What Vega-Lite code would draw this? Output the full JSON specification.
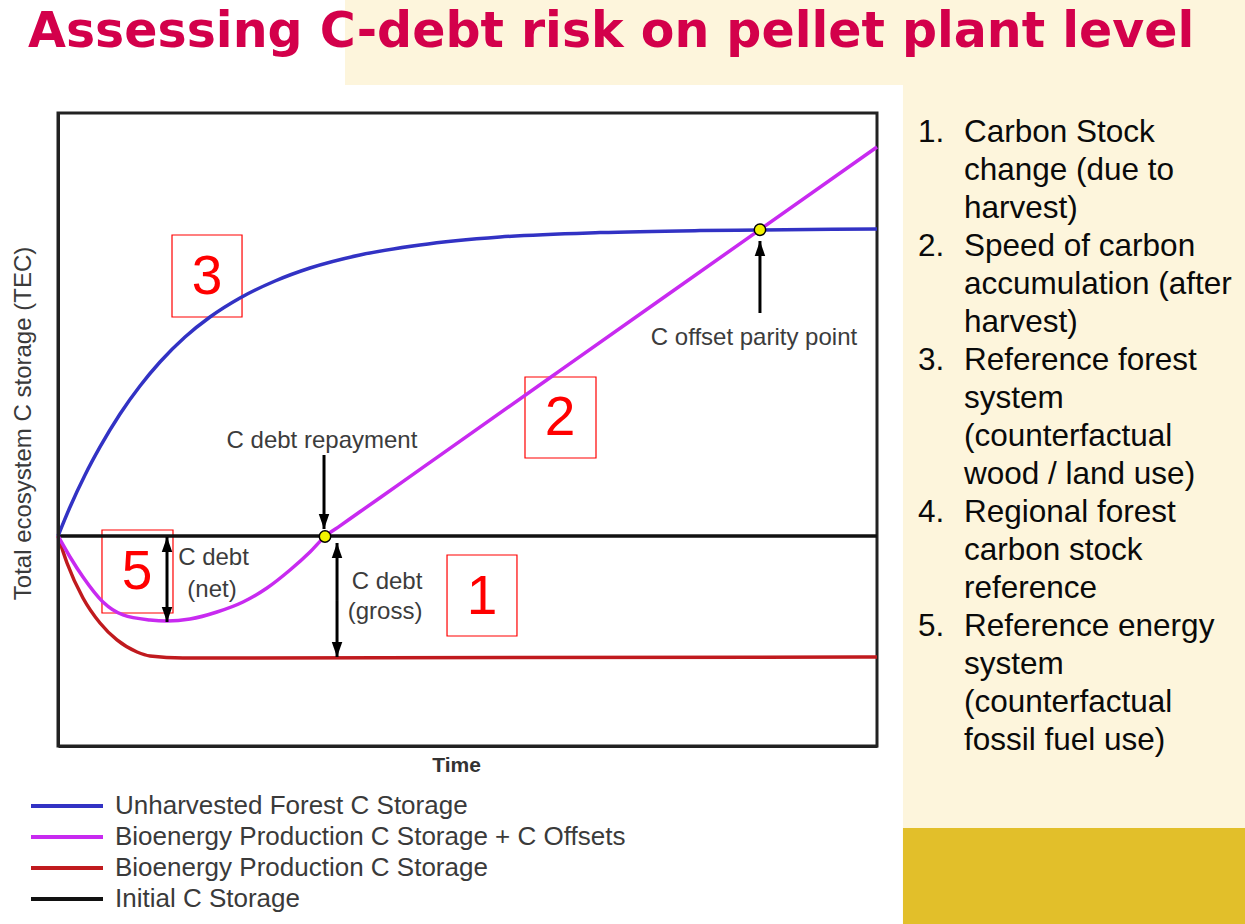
{
  "$schema": "https://vega.github.io/schema/vega-lite/v6.json",
  "width": 819,
  "height": 633,
  "autosize": {"type": "none"},
  "padding": {"left": 58, "top": 113, "right": 368, "bottom": 178},
  "background": "#ffffff",
  "datasets": {
    "cream": [
      {"t": 35.04, "t2": 150, "v": 104.42, "v2": 122},
      {"t": 103.17, "t2": 150, "v": -12.95, "v2": 104.5}
    ],
    "gold": [
      {"t": 103.17, "t2": 150, "v": -32, "v2": -12.95}
    ],
    "heading": [
      {"label": "Assessing C-debt risk on pellet plant level", "t": -3.66, "v": 110.43}
    ],
    "panel": [
      {"label": "1.", "t": 105.01, "v": 95.42},
      {"label": "Carbon Stock", "t": 110.62, "v": 95.42},
      {"label": "change (due to", "t": 110.62, "v": 89.42},
      {"label": "harvest)", "t": 110.62, "v": 83.41},
      {"label": "2.", "t": 105.01, "v": 77.41},
      {"label": "Speed of carbon", "t": 110.62, "v": 77.41},
      {"label": "accumulation (after", "t": 110.62, "v": 71.41},
      {"label": "harvest)", "t": 110.62, "v": 65.40},
      {"label": "3.", "t": 105.01, "v": 59.40},
      {"label": "Reference forest", "t": 110.62, "v": 59.40},
      {"label": "system", "t": 110.62, "v": 53.40},
      {"label": "(counterfactual", "t": 110.62, "v": 47.39},
      {"label": "wood / land use)", "t": 110.62, "v": 41.39},
      {"label": "4.", "t": 105.01, "v": 35.39},
      {"label": "Regional forest", "t": 110.62, "v": 35.39},
      {"label": "carbon stock", "t": 110.62, "v": 29.38},
      {"label": "reference", "t": 110.62, "v": 23.38},
      {"label": "5.", "t": 105.01, "v": 17.38},
      {"label": "Reference energy", "t": 110.62, "v": 17.38},
      {"label": "system", "t": 110.62, "v": 11.37},
      {"label": "(counterfactual", "t": 110.62, "v": 5.37},
      {"label": "fossil fuel use)", "t": 110.62, "v": -0.63}
    ],
    "curves": [
      {"series": "Initial C Storage", "t": 0, "v": 33.18},
      {"series": "Initial C Storage", "t": 100, "v": 33.18},
      {"series": "Bioenergy Production C Storage", "t": 0, "v": 33.18},
      {"series": "Bioenergy Production C Storage", "t": 1.10, "v": 28.91},
      {"series": "Bioenergy Production C Storage", "t": 3.05, "v": 23.38},
      {"series": "Bioenergy Production C Storage", "t": 5.13, "v": 19.43},
      {"series": "Bioenergy Production C Storage", "t": 7.20, "v": 16.75},
      {"series": "Bioenergy Production C Storage", "t": 9.65, "v": 14.85},
      {"series": "Bioenergy Production C Storage", "t": 11.23, "v": 14.22},
      {"series": "Bioenergy Production C Storage", "t": 15.26, "v": 13.90},
      {"series": "Bioenergy Production C Storage", "t": 23.44, "v": 13.90},
      {"series": "Bioenergy Production C Storage", "t": 100, "v": 14.06},
      {"series": "Unharvested Forest C Storage", "t": 0, "v": 33.18},
      {"series": "Unharvested Forest C Storage", "t": 1.47, "v": 37.76},
      {"series": "Unharvested Forest C Storage", "t": 3.30, "v": 42.81},
      {"series": "Unharvested Forest C Storage", "t": 5.13, "v": 47.24},
      {"series": "Unharvested Forest C Storage", "t": 7.57, "v": 52.45},
      {"series": "Unharvested Forest C Storage", "t": 10.01, "v": 56.87},
      {"series": "Unharvested Forest C Storage", "t": 12.45, "v": 60.66},
      {"series": "Unharvested Forest C Storage", "t": 15.51, "v": 64.61},
      {"series": "Unharvested Forest C Storage", "t": 18.56, "v": 67.77},
      {"series": "Unharvested Forest C Storage", "t": 22.22, "v": 70.77},
      {"series": "Unharvested Forest C Storage", "t": 26.50, "v": 73.46},
      {"series": "Unharvested Forest C Storage", "t": 30.77, "v": 75.51},
      {"series": "Unharvested Forest C Storage", "t": 36.87, "v": 77.57},
      {"series": "Unharvested Forest C Storage", "t": 44.20, "v": 79.15},
      {"series": "Unharvested Forest C Storage", "t": 53.97, "v": 80.41},
      {"series": "Unharvested Forest C Storage", "t": 66.18, "v": 81.11},
      {"series": "Unharvested Forest C Storage", "t": 78.39, "v": 81.42},
      {"series": "Unharvested Forest C Storage", "t": 85.71, "v": 81.52},
      {"series": "Unharvested Forest C Storage", "t": 100, "v": 81.67},
      {"series": "Bioenergy Production C Storage + C Offsets", "t": 0, "v": 33.18},
      {"series": "Bioenergy Production C Storage + C Offsets", "t": 1.47, "v": 29.86},
      {"series": "Bioenergy Production C Storage + C Offsets", "t": 3.05, "v": 26.70},
      {"series": "Bioenergy Production C Storage + C Offsets", "t": 5.49, "v": 22.75},
      {"series": "Bioenergy Production C Storage + C Offsets", "t": 7.94, "v": 20.70},
      {"series": "Bioenergy Production C Storage + C Offsets", "t": 11.23, "v": 19.91},
      {"series": "Bioenergy Production C Storage + C Offsets", "t": 13.31, "v": 19.75},
      {"series": "Bioenergy Production C Storage + C Offsets", "t": 16.12, "v": 20.06},
      {"series": "Bioenergy Production C Storage + C Offsets", "t": 19.41, "v": 21.17},
      {"series": "Bioenergy Production C Storage + C Offsets", "t": 22.59, "v": 22.75},
      {"series": "Bioenergy Production C Storage + C Offsets", "t": 25.52, "v": 24.96},
      {"series": "Bioenergy Production C Storage + C Offsets", "t": 28.33, "v": 27.80},
      {"series": "Bioenergy Production C Storage + C Offsets", "t": 30.77, "v": 30.65},
      {"series": "Bioenergy Production C Storage + C Offsets", "t": 32.60, "v": 33.10},
      {"series": "Bioenergy Production C Storage + C Offsets", "t": 34.43, "v": 34.77},
      {"series": "Bioenergy Production C Storage + C Offsets", "t": 36.87, "v": 37.00},
      {"series": "Bioenergy Production C Storage + C Offsets", "t": 41.76, "v": 41.45},
      {"series": "Bioenergy Production C Storage + C Offsets", "t": 46.64, "v": 45.91},
      {"series": "Bioenergy Production C Storage + C Offsets", "t": 61.29, "v": 59.29},
      {"series": "Bioenergy Production C Storage + C Offsets", "t": 85.71, "v": 81.58},
      {"series": "Bioenergy Production C Storage + C Offsets", "t": 100, "v": 94.63}
    ],
    "arrows": [
      {"name": "repayment", "t": 32.48, "v": 45.97, "v2": 34.28},
      {"name": "parity", "t": 85.71, "v": 68.40, "v2": 79.78},
      {"name": "net", "t": 13.31, "v": 26.54, "v2": 33.02},
      {"name": "net", "t": 13.31, "v": 26.54, "v2": 19.59},
      {"name": "gross", "t": 34.07, "v": 23.06, "v2": 32.07},
      {"name": "gross", "t": 34.07, "v": 23.06, "v2": 14.06}
    ],
    "dots": [
      {"name": "C debt repayment", "t": 32.60, "v": 33.10},
      {"name": "C offset parity point", "t": 85.71, "v": 81.55}
    ],
    "notes": [
      {"label": "C debt repayment", "t": 32.23, "v": 48.18},
      {"label": "C offset parity point", "t": 84.98, "v": 64.45},
      {"label": "C debt", "t": 18.99, "v": 29.70},
      {"label": "(net)", "t": 18.80, "v": 24.64},
      {"label": "C debt", "t": 40.17, "v": 25.91},
      {"label": "(gross)", "t": 39.93, "v": 21.17}
    ],
    "boxes": [
      {"label": "3", "t": 13.92, "t2": 22.47, "v": 67.77, "v2": 80.73, "tc": 18.19, "vc": 74.09},
      {"label": "2", "t": 57.02, "t2": 65.69, "v": 45.50, "v2": 58.29, "tc": 61.29, "vc": 51.82},
      {"label": "1", "t": 47.50, "t2": 56.04, "v": 17.38, "v2": 30.17, "tc": 51.77, "vc": 23.54},
      {"label": "5", "t": 5.37, "t2": 14.04, "v": 21.01, "v2": 34.12, "tc": 9.65, "vc": 27.49}
    ]
  },
  "encoding": {
    "x": {
      "field": "t", "type": "quantitative",
      "scale": {"domain": [0, 100], "nice": false, "zero": false},
      "title": "Time",
      "axis": {
        "ticks": false, "labels": false, "grid": false,
        "domainColor": "#222222", "domainWidth": 3, "zindex": 1,
        "titleX": 398, "titleY": 19, "titleAlign": "center", "titleBaseline": "middle",
        "titleFont": "Liberation Sans", "titleFontSize": 21, "titleFontWeight": "bold", "titleColor": "#333333"
      }
    },
    "y": {
      "field": "v", "type": "quantitative",
      "scale": {"domain": [0, 100], "nice": false, "zero": false},
      "title": "Total ecosystem C storage (TEC)",
      "axis": {
        "ticks": false, "labels": false, "grid": false,
        "domainColor": "#222222", "domainWidth": 3, "zindex": 1,
        "titleX": -35, "titleY": 310, "titleAngle": 270, "titleAlign": "center", "titleBaseline": "middle",
        "titleFont": "Liberation Sans", "titleFontSize": 24, "titleFontWeight": "normal", "titleColor": "#3a3a3a"
      }
    }
  },
  "layer": [
    {
      "data": {"name": "cream"},
      "mark": {"type": "rect", "fill": "#fdf5dc", "strokeWidth": 0},
      "encoding": {"x2": {"field": "t2"}, "y2": {"field": "v2"}}
    },
    {
      "data": {"name": "gold"},
      "mark": {"type": "rect", "fill": "#e2bf2a", "strokeWidth": 0},
      "encoding": {"x2": {"field": "t2"}, "y2": {"field": "v2"}}
    },
    {
      "data": {"name": "heading"},
      "mark": {"type": "text", "font": "DejaVu Sans", "fontWeight": "bold", "fontSize": 49, "fill": "#d3004b", "align": "left", "baseline": "alphabetic"},
      "encoding": {"text": {"field": "label"}}
    },
    {
      "data": {"name": "panel"},
      "mark": {"type": "text", "font": "Liberation Sans", "fontSize": 31.5, "fill": "#0a0a0a", "align": "left", "baseline": "alphabetic"},
      "encoding": {"text": {"field": "label"}}
    },
    {
      "data": {"name": "boxes"},
      "mark": {"type": "rect", "fill": null, "fillOpacity": 0, "stroke": "#ff0000", "strokeWidth": 1.2},
      "encoding": {"x2": {"field": "t2"}, "y2": {"field": "v2"}}
    },
    {
      "data": {"name": "curves"},
      "mark": {"type": "line", "strokeWidth": 3.5, "interpolate": "monotone"},
      "encoding": {
        "color": {
          "field": "series", "type": "nominal",
          "scale": {
            "domain": ["Unharvested Forest C Storage", "Bioenergy Production C Storage + C Offsets", "Bioenergy Production C Storage", "Initial C Storage"],
            "range": ["#3232c4", "#c82af0", "#c01a1e", "#111111"]
          },
          "legend": {
            "title": null, "orient": "none", "legendX": -5, "legendY": 679, "direction": "vertical",
            "symbolType": "M-3,0L3,0", "symbolSize": 576, "symbolStrokeWidth": 4,
            "labelFont": "Liberation Sans", "labelFontSize": 26, "labelColor": "#3a3a3a",
            "labelOffset": 34, "rowPadding": 4, "labelLimit": 800, "padding": 0
          }
        }
      }
    },
    {
      "data": {"name": "arrows"},
      "mark": {"type": "rule", "stroke": "#000000", "strokeWidth": 3},
      "encoding": {"y2": {"field": "v2"}}
    },
    {
      "data": {"name": "arrows"},
      "transform": [{"filter": "datum.v2 > datum.v"}],
      "mark": {"type": "point", "shape": "M0,0L-0.35,1L0.35,1Z", "size": 900, "filled": true, "fill": "#000000", "strokeWidth": 0, "opacity": 1},
      "encoding": {
        "y": {"field": "v2", "type": "quantitative", "scale": {"domain": [0, 100], "nice": false, "zero": false}, "title": "Total ecosystem C storage (TEC)"}
      }
    },
    {
      "data": {"name": "arrows"},
      "transform": [{"filter": "datum.v2 < datum.v"}],
      "mark": {"type": "point", "shape": "M0,0L-0.35,-1L0.35,-1Z", "size": 900, "filled": true, "fill": "#000000", "strokeWidth": 0, "opacity": 1},
      "encoding": {
        "y": {"field": "v2", "type": "quantitative", "scale": {"domain": [0, 100], "nice": false, "zero": false}, "title": "Total ecosystem C storage (TEC)"}
      }
    },
    {
      "data": {"name": "dots"},
      "mark": {"type": "point", "shape": "circle", "size": 130, "filled": true, "fill": "#f2f200", "stroke": "#000000", "strokeWidth": 1.5, "opacity": 1}
    },
    {
      "data": {"name": "notes"},
      "mark": {"type": "text", "font": "Liberation Sans", "fontSize": 24, "fill": "#3c3c3c", "align": "center", "baseline": "middle"},
      "encoding": {"text": {"field": "label"}}
    },
    {
      "data": {"name": "boxes"},
      "mark": {"type": "text", "font": "Liberation Sans", "fontSize": 55, "fill": "#ff0000", "align": "center", "baseline": "middle"},
      "encoding": {
        "x": {"field": "tc", "type": "quantitative", "scale": {"domain": [0, 100], "nice": false, "zero": false}, "title": "Time"},
        "y": {"field": "vc", "type": "quantitative", "scale": {"domain": [0, 100], "nice": false, "zero": false}, "title": "Total ecosystem C storage (TEC)"},
        "text": {"field": "label"}
      }
    }
  ],
  "config": {
    "font": "Liberation Sans",
    "view": {"stroke": "#222222", "strokeWidth": 3}
  }
}
